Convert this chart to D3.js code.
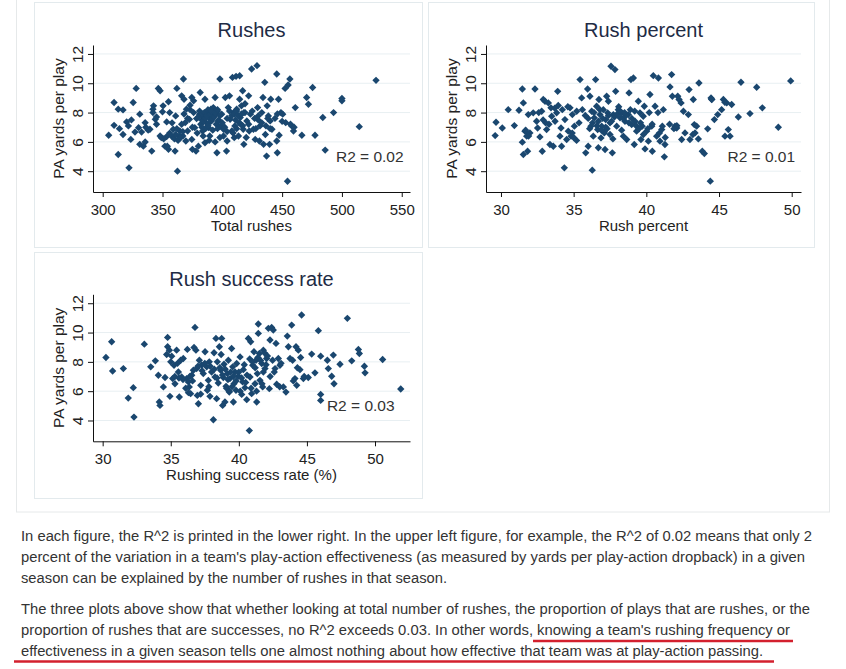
<!DOCTYPE html>
<html>
<head>
<meta charset="utf-8">
<script src="https://cdnjs.cloudflare.com/ajax/libs/d3/7.8.5/d3.min.js"></script>
<style>
body { margin: 0; background: #fff; }
svg { display: block; font-family: "Liberation Sans", Arial, sans-serif; }
</style>
</head>
<body>
<svg width="846" height="669"></svg>
<script>
// [total rushes, PA yards per play]
var rushes = [[305,6.45],[309.5,8.69],[309.5,7.13],[313,8.23],[313,5.14],[314,6.9],[317,8.18],[317,6.5],[320,7.36],[321.5,7.09],
  [322,4.23],[323.5,6.17],[324,7.5],[325.5,8.69],[327,6.67],[328,9.65],[330,6.97],[331,7.89],[331,5.83],[332.5,6.67],
  [334,5.71],[335.5,7.31],[335.5,5.99],[339.5,6.86],[341,5.37],[342,8.23],[342.5,8.46],[344,7.54],[345,7.2],[346.5,9.65],
  [348,9.49],[349,6.29],[350,8.05],[350.5,8.46],[352,5.71],[353.5,6.36],[353.5,7.36],[355,8.74],[355,5.49],[356,8.0],
  [357.5,6.4],[359,6.86],[360.5,5.37],[361,7.77],[362,9.65],[362.5,4.0],[363,6.17],[364.5,6.74],[366,9.14],[367,6.4],
  [367.5,10.29],[368,8.91],[369,7.31],[369.5,6.06],[370,8.23],[371,6.74],[372.5,7.54],[373,8.5],[374.5,9.03],[374.5,6.17],
  [375,5.49],[376,8.0],[377,6.97],[378,5.37],[378.5,7.59],[380,5.71],[381,7.89],[381.5,9.37],[382,7.2],[383,7.5],
  [383.5,6.74],[384,7.77],[385.5,8.91],[385.5,5.94],[386.5,7.31],[387,8.0],[388.5,6.97],[389,7.66],[389.5,6.4],[390.5,8.23],
  [391,7.43],[392,7.89],[392.5,8.34],[394,9.03],[395,7.2],[395.5,5.26],[396,8.11],[396.5,7.43],[398,10.29],[398.5,7.09],
  [399.5,7.89],[401,6.86],[402.5,9.03],[403.5,5.37],[404,6.06],[405,8.34],[406,9.14],[406.5,7.54],[408,6.74],[408.5,10.4],
  [409.5,8.0],[410,6.29],[410.5,7.09],[411.5,10.47],[412,8.23],[413.5,6.4],[414.5,10.51],[414.5,8.91],[415,7.66],[415.5,7.2],
  [416,8.46],[417,9.49],[417.5,6.86],[418,5.83],[419,8.0],[420.5,7.43],[422,9.14],[422.5,6.74],[423.5,7.89],[424.5,10.97],
  [426,6.86],[427.5,6.17],[429,11.2],[429.5,8.34],[430,7.77],[431,6.06],[431.5,7.09],[433,8.0],[434,9.03],[434.5,5.83],
  [435.5,10.06],[436.5,7.09],[437,5.03],[437.5,8.46],[438.5,7.77],[439.5,5.83],[440,7.43],[440.5,8.91],[441.5,6.86],[445.5,10.63],
  [445.5,6.06],[446,5.26],[447,8.91],[447.5,6.45],[449,8.0],[450.5,7.89],[452.5,9.65],[453,7.31],[454.5,3.31],[455,9.88],
  [456.5,10.29],[458,7.09],[459.5,6.74],[461,8.34],[466.5,6.45],[470.5,9.03],[472,8.57],[475.5,9.71],[477.5,6.45],[484,7.66],
  [486,5.44],[493,8.0],[500,8.8],[500,8.96],[514.5,7.04],[528.5,10.2],
  [380,7.7],[381,8.1],[383,7.9],[384,7.4],[385,8.0],[386,7.6],[387,7.8],[388,8.2],[389,7.3],[390,7.9],
  [391,8.1],[392,7.6],[393,7.7],[394,8.0],[395,7.9],[396,8.2],[397,7.5],[398,7.8],[383,7.0],[386,6.9],
  [388,7.1],[392,6.8],[396,6.9],[400,7.3],[402,7.0],[404,7.6],[406,8.1],[408,7.8],[410,7.9],[411,7.5],
  [412,8.1],[413,7.8],[414,7.3],[416,7.9],[417,7.1],[418,8.0],[412,6.9],[409,6.6],[404,6.7],[401,6.4],
  [398,6.3],[394,6.0],[389,6.1],[384,6.4],[379,6.6],[375,7.0],[371,7.6],[368,7.9],[366,7.2],[364,6.4],
  [362,6.9],[360,6.2],[358,7.3],[356,6.6],[354,5.7],[351,6.2],[348,6.4],[345,7.7],[342,8.0],[338,6.8],
  [336,7.0],[430,7.5],[428,6.9],[433,7.3],[436,6.5],[438,7.6],[440,6.9],[425,8.1],[427,7.6],[422,7.2],
  [420,6.3],[419,8.6],[444,7.6],[446,7.9],[450,7.4],[457,7.2],[460,7.0],[361,6.5],[363,6.1],[365,6.3],
  [367,6.7],[373,8.2],[376,8.8]];

// [rush percent, PA yards per play]
var rushPct = [[29.6,6.43],[29.66,7.34],[30.09,6.95],[30.5,8.2],[30.92,7.11],[31.24,8.16],[31.47,9.61],[31.47,5.98],[31.54,8.66],[31.54,5.14],
  [31.65,6.73],[31.77,6.39],[31.83,5.36],[31.88,7.86],[31.99,6.61],[32.22,7.98],[32.34,9.61],[32.45,7.41],[32.52,6.95],[32.68,6.34],
  [32.8,8.09],[32.84,5.36],[32.91,8.89],[33.03,8.77],[33.07,7.3],[33.14,6.84],[33.26,8.66],[33.37,5.82],[33.44,8.32],[33.49,7.75],
  [33.6,5.7],[33.72,7.41],[33.83,7.98],[33.9,9.45],[33.94,8.48],[34.06,6.39],[34.13,6.95],[34.17,5.7],[34.22,8.2],[34.36,4.23],
  [34.4,7.52],[34.52,6.16],[34.63,6.73],[34.75,8.32],[34.82,6.39],[34.91,7.86],[35.05,7.07],[35.21,8.09],[35.37,7.3],[35.44,10.25],
  [35.55,9.0],[35.6,8.2],[35.83,5.25],[35.96,9.61],[36.0,5.7],[36.12,9.11],[36.19,7.07],[36.24,8.09],[36.28,4.07],[36.35,6.39],
  [36.42,7.64],[36.51,10.25],[36.58,8.43],[36.65,6.84],[36.7,7.41],[36.74,8.89],[36.81,7.86],[36.88,6.27],[36.93,7.07],[37.04,8.2],
  [37.11,6.61],[37.16,5.48],[37.2,7.52],[37.27,9.11],[37.34,7.98],[37.39,8.77],[37.5,7.3],[37.57,11.16],[37.66,5.25],[37.73,7.86],
  [37.84,10.93],[37.89,9.45],[37.96,7.07],[38.07,8.2],[38.19,7.64],[38.3,7.98],[38.42,6.39],[38.53,7.41],[38.65,6.16],[38.76,7.86],
  [38.81,9.34],[38.94,10.25],[38.99,7.18],[39.11,10.36],[39.17,5.82],[39.22,7.41],[39.33,6.73],[39.45,8.77],[39.56,7.98],[39.63,6.16],
  [39.72,7.07],[39.79,7.75],[39.86,8.43],[39.91,5.52],[40.02,6.73],[40.14,6.05],[40.25,9.23],[40.37,7.07],[40.41,5.36],[40.48,10.52],
  [40.6,8.43],[40.71,6.39],[40.83,10.36],[40.94,6.05],[41.06,6.84],[41.1,7.07],[41.17,8.2],[41.24,4.98],[41.28,5.82],[41.63,9.75],
  [41.74,10.59],[41.79,9.11],[41.97,7.07],[42.09,6.95],[42.16,9.11],[42.25,8.89],[42.39,8.66],[42.43,6.16],[42.55,8.09],[42.66,6.61],
  [42.89,7.86],[42.94,9.57],[43.0,6.16],[43.23,8.89],[43.3,7.18],[43.35,6.61],[43.46,7.07],[43.58,6.2],[43.62,10.02],[43.85,5.36],
  [43.99,5.2],[44.22,6.89],[44.45,9.0],[44.5,8.89],[44.4,3.32],[44.68,7.52],[44.91,7.86],[45.18,8.2],[45.3,8.89],[45.41,6.39],
  [45.53,8.66],[45.64,6.84],[45.76,6.39],[45.87,8.55],[46.33,7.7],[46.51,10.07],[47.13,7.93],[47.59,9.73],[47.98,8.32],[49.08,7.0],
  [49.93,10.16],
  [37.0,7.6],[37.2,7.0],[37.4,7.8],[37.6,7.4],[37.8,7.7],[38.0,7.9],[38.2,8.1],[38.4,7.6],[38.6,7.8],[38.8,7.3],
  [39.0,7.6],[37.1,6.7],[37.3,6.9],[37.5,6.5],[36.9,6.8],[36.6,7.1],[36.3,7.3],[36.0,7.6],[36.4,8.0],[36.8,8.2],
  [38.1,8.4],[38.5,8.0],[39.3,7.1],[39.5,6.9],[39.8,6.5],[40.1,6.9],[40.4,7.2],[42.0,7.0],[42.1,7.1],[41.9,6.9],
  [41.3,6.3],[41.6,7.2],[40.8,8.0],[35.0,6.3],[35.2,6.1],[34.9,6.6],[34.6,8.4],[33.7,8.3],[33.3,7.2],[32.9,7.5],
  [32.6,8.0],[31.9,6.4],[31.7,6.8],[35.8,7.8],[36.1,6.9],[38.9,8.2],[39.2,8.1],[40.2,8.0],[40.9,6.6],[43.2,6.5],
  [44.5,8.9],[45.4,8.7],[37.7,6.2],[38.3,6.8],[36.7,5.6],[39.6,7.3]];

// [rushing success rate %, PA yards per play]
var successRate = [[30.24,8.3],[30.66,9.37],[30.73,7.38],[31.52,7.54],[31.88,5.53],[32.25,6.24],[32.3,4.23],[33.06,9.21],[33.53,7.66],[33.87,8.07],
  [34.09,7.09],[34.16,5.26],[34.21,5.03],[34.46,6.29],[34.58,6.93],[34.77,9.67],[34.77,9.03],[34.9,8.8],[34.94,5.65],[35.07,8.39],
  [35.14,6.86],[35.24,7.77],[35.31,6.51],[35.43,8.8],[35.56,7.31],[35.63,5.6],[35.73,8.11],[35.8,6.97],[35.92,8.23],[36.17,6.86],
  [36.22,8.85],[36.29,6.63],[36.36,6.29],[36.46,5.83],[36.54,7.09],[36.66,7.43],[36.71,8.98],[36.78,10.35],[36.85,8.8],[36.9,7.54],
  [36.95,5.71],[37.03,5.14],[37.1,8.11],[37.2,6.4],[37.27,7.77],[37.39,7.2],[37.52,8.69],[37.64,7.66],[37.69,6.06],[37.76,6.74],
  [37.83,8.0],[37.88,5.65],[38.0,7.31],[38.13,4.05],[38.18,8.62],[38.25,6.97],[38.32,9.6],[38.37,5.49],[38.42,8.0],[38.49,6.56],
  [38.57,9.03],[38.67,7.43],[38.74,9.6],[38.81,5.03],[38.86,6.93],[38.91,7.84],[38.98,5.26],[39.06,6.33],[39.16,7.2],[39.23,8.11],
  [39.3,5.94],[39.35,6.86],[39.47,8.91],[39.55,7.66],[39.6,5.26],[39.64,6.51],[39.72,7.31],[39.79,6.06],[39.84,7.89],[39.96,7.02],
  [40.09,8.34],[40.21,5.78],[40.28,6.63],[40.33,7.47],[40.45,6.24],[40.58,5.42],[40.7,9.6],[40.77,3.31],[40.82,6.97],[40.87,9.37],
  [40.94,5.83],[41.02,7.77],[41.11,8.69],[41.19,6.51],[41.26,8.11],[41.31,5.26],[41.36,7.2],[41.43,10.58],[41.43,9.94],[41.51,8.57],
  [41.55,6.74],[41.68,7.89],[41.75,6.29],[41.8,8.8],[41.92,7.54],[42.04,8.23],[42.17,10.29],[42.24,6.17],[42.29,9.49],[42.41,10.35],
  [42.48,8.11],[42.53,10.17],[42.66,7.54],[42.73,9.26],[42.78,6.47],[42.9,8.23],[43.02,7.77],[43.27,6.29],[43.46,5.94],[43.56,9.76],
  [43.64,9.03],[43.76,8.23],[43.88,10.51],[43.95,8.11],[44.12,6.86],[44.2,9.03],[44.25,6.4],[44.37,8.8],[44.49,7.47],[44.54,8.3],
  [44.61,11.2],[44.74,6.86],[45.1,6.93],[45.35,8.53],[45.59,7.25],[45.84,10.13],[46.01,8.39],[46.01,5.78],[46.01,5.37],[46.5,8.11],
  [46.57,7.54],[46.82,7.02],[46.94,8.46],[46.99,6.51],[47.43,7.84],[47.97,10.97],[48.29,8.07],[48.78,8.85],[48.85,8.57],[49.22,7.7],
  [49.27,7.25],[50.56,8.16],[51.89,6.15],
  [38.6,7.6],[38.8,7.1],[39.0,7.5],[39.2,6.8],[39.4,7.3],[39.6,7.0],[39.8,6.7],[40.0,7.3],[40.2,6.9],[40.4,7.8],
  [40.6,7.1],[40.8,8.2],[41.0,8.0],[41.2,7.6],[41.4,8.3],[41.6,8.1],[41.8,7.3],[42.0,7.8],[39.1,6.2],[39.3,6.0],
  [39.5,6.3],[38.4,6.9],[38.2,7.5],[37.9,7.7],[37.5,7.9],[37.3,7.4],[37.0,7.7],[36.6,6.7],[36.4,7.0],[35.9,6.8],
  [35.6,6.9],[35.3,7.0],[35.5,7.9],[36.1,6.2],[36.3,5.9],[40.1,6.0],[40.5,6.6],[40.9,6.2],[41.3,6.0],[41.7,6.5],
  [42.3,7.0],[42.6,7.3],[43.0,6.3],[43.1,7.9],[44.0,6.7],[44.3,7.6],[44.8,7.0],[37.8,6.3],[37.2,5.8],[41.9,8.6],
  [42.1,8.4],[38.7,8.5],[34.7,8.5],[35.0,8.0]];

var yTicks = [4, 6, 8, 10, 12];
var rushTicks = [300, 350, 400, 450, 500, 550];
var pctTicks = [30, 35, 40, 45, 50];
var titles = ["Rushes", "Rush percent", "Rush success rate"];
var xLabels = ["Total rushes", "Rush percent", "Rushing success rate (%)"];
var r2Labels = ["R2 = 0.02", "R2 = 0.01", "R2 = 0.03"];

var para1 = [
  "In each figure, the R^2 is printed in the lower right. In the upper left figure, for example, the R^2 of 0.02 means that only 2",
  "percent of the variation in a team's play-action effectiveness (as measured by yards per play-action dropback) in a given",
  "season can be explained by the number of rushes in that season."];
var para2 = [
  "The three plots above show that whether looking at total number of rushes, the proportion of plays that are rushes, or the",
  "proportion of rushes that are successes, no R^2 exceeds 0.03. In other words, knowing a team's rushing frequency or",
  "effectiveness in a given season tells one almost nothing about how effective that team was at play-action passing."];

var svg = d3.select("svg");
var navy = "#1a476f";

// outer container and panel boxes
svg.append("rect").attr("x", 16.5).attr("y", -10).attr("width", 813).attr("height", 522)
  .style("fill", "none").style("stroke", "#e6e9ea");

var panels = [
  {data: rushes, xDomain: [291.9, 556.9], ticks: rushTicks, r2At: [495, 5], left: 93, top: 45, w: 317, box: [34.5, 2.5, 388, 245]},
  {data: rushPct, xDomain: [28.97, 50.64], ticks: pctTicks, r2At: [45.58, 5], left: 486, top: 45, w: 315, box: [428.5, 2.5, 386, 245]},
  {data: successRate, xDomain: [29.29, 52.57], ticks: pctTicks, r2At: [46.47, 5], left: 93, top: 294.3, w: 317, box: [34.5, 252.5, 388, 246]}
];
var ph = 147;

panels.forEach(function(p, i) {
  svg.append("rect").attr("x", p.box[0]).attr("y", p.box[1]).attr("width", p.box[2]).attr("height", p.box[3])
    .style("fill", "#fff").style("stroke", "#e3eaed");

  var g = svg.append("g").attr("transform", "translate(" + p.left + "," + p.top + ")");
  var x = d3.scaleLinear().domain(p.xDomain).range([0, p.w]);
  var y = d3.scaleLinear().domain([2.58, 12.61]).range([ph, 0]);

  // grid
  g.selectAll(".grid").data(yTicks).enter().append("line")
    .attr("x1", 0).attr("x2", p.w)
    .attr("y1", function(d) { return y(d); }).attr("y2", function(d) { return y(d); })
    .style("stroke", "#e8eff2").style("stroke-width", 1);

  var xa = g.append("g").attr("transform", "translate(0," + ph + ")")
    .call(d3.axisBottom(x).tickValues(p.ticks).tickSize(5).tickSizeOuter(0));
  xa.selectAll("text").attr("y", 23).attr("dy", null)
    .style("font-size", "15px").style("fill", "#222");

  var ya = g.append("g")
    .call(d3.axisLeft(y).tickValues(yTicks).tickSize(5).tickSizeOuter(0));
  ya.selectAll("text").attr("x", 0).attr("y", -9.7).attr("dy", null)
    .attr("transform", "rotate(-90)").style("text-anchor", "middle")
    .style("font-size", "15.5px").style("fill", "#222");
  g.selectAll(".domain, .tick line").style("stroke", "#111");

  g.append("text").attr("transform", "translate(-28.7," + ph / 2 + ") rotate(-90)")
    .style("text-anchor", "middle").style("font-size", "15.5px").style("fill", "#222")
    .text("PA yards per play");

  g.append("text").attr("x", p.w / 2).attr("y", ph + 39)
    .style("text-anchor", "middle").style("font-size", "15px").style("fill", "#222")
    .text(xLabels[i]);

  g.append("text").attr("x", p.w / 2).attr("y", -8)
    .style("text-anchor", "middle").style("font-size", "20px").style("fill", "#1e2b45")
    .text(titles[i]);

  g.selectAll(".pt").data(p.data).enter().append("rect")
    .attr("class", "pt")
    .attr("x", -2.6).attr("y", -2.6).attr("width", 5.2).attr("height", 5.2)
    .attr("transform", function(d) { return "translate(" + x(d[0]) + "," + y(d[1]) + ") rotate(45)"; })
    .style("fill", navy);

  g.append("text").attr("x", x(p.r2At[0])).attr("y", y(p.r2At[1])).attr("dy", "0.36em")
    .style("font-size", "15.5px").style("fill", "#333")
    .text(r2Labels[i]);
});

// text below the figure
var lens1 = [791, 784, 426], lens2 = [789, 769, 742];
svg.selectAll(".p1").data(para1).enter().append("text")
  .attr("x", 21).attr("y", function(d, i) { return 541 + i * 21; })
  .attr("textLength", function(d, i) { return lens1[i]; }).attr("lengthAdjust", "spacingAndGlyphs")
  .style("font-size", "14px").style("fill", "#333").text(function(d) { return d; });
svg.selectAll(".p2").data(para2).enter().append("text")
  .attr("x", 21).attr("y", function(d, i) { return 614 + i * 21; })
  .attr("textLength", function(d, i) { return lens2[i]; }).attr("lengthAdjust", "spacingAndGlyphs")
  .style("font-size", "14px").style("fill", "#333").text(function(d) { return d; });

// red marker underline
svg.append("line").attr("x1", 533).attr("x2", 793).attr("y1", 641).attr("y2", 641)
  .style("stroke", "#d3202e").style("stroke-width", 2.6);
svg.append("line").attr("x1", 14).attr("x2", 774).attr("y1", 661.5).attr("y2", 661.5)
  .style("stroke", "#d3202e").style("stroke-width", 2.6);
</script>
</body>
</html>
